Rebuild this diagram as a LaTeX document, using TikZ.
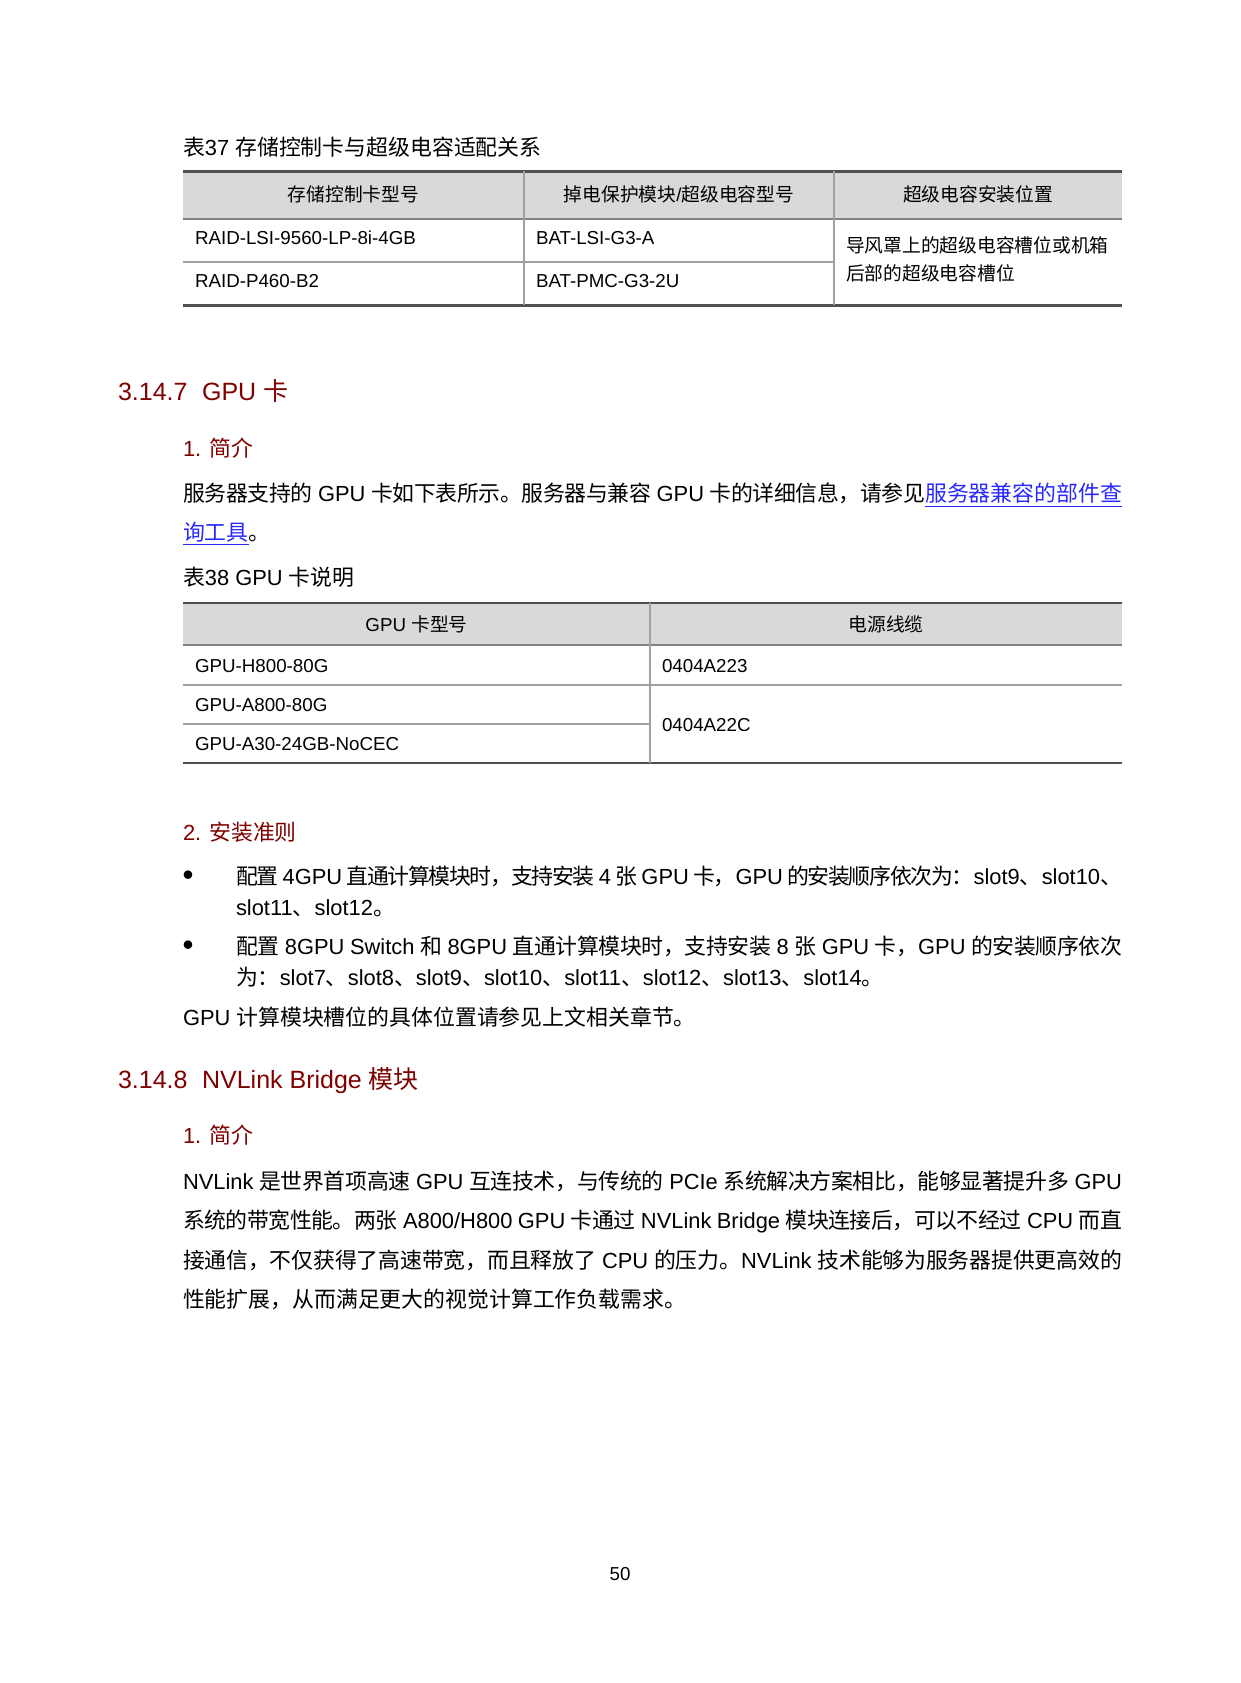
\documentclass[tikz,border=0pt]{standalone}
\usepackage{fontspec}
\setmainfont{Liberation Sans}
\newfontfamily\cjkfont{Noto Sans CJK SC}
\newcommand\latinfont{\rmfamily}
\XeTeXinterchartokenstate=1
\newXeTeXintercharclass\mycjk
\newcount\cjkcnt
\newcommand\setcjkrange[2]{\cjkcnt=#1\relax\loop\XeTeXcharclass\cjkcnt=\mycjk\relax\ifnum\cjkcnt<#2\relax\advance\cjkcnt by 1\relax\repeat}
\setcjkrange{"3000}{"303F}
\setcjkrange{"4E00}{"9FFF}
\setcjkrange{"FF00}{"FFEF}
\XeTeXinterchartoks 0 \mycjk = {\cjkfont}
\XeTeXinterchartoks 4095 \mycjk = {\cjkfont}
\XeTeXinterchartoks \mycjk 0 = {\latinfont}
\XeTeXinterchartoks \mycjk 4095 = {\latinfont}
\XeTeXinterchartoks \mycjk \mycjk = {\hskip 0pt plus 1.5pt minus 0.7pt\relax}
\definecolor{headred}{RGB}{128,0,0}
\definecolor{linkblue}{RGB}{40,40,255}
\definecolor{hdrgray}{RGB}{217,217,217}
\definecolor{darkrule}{RGB}{80,80,80}
\definecolor{midrule}{RGB}{130,130,130}
\definecolor{gridrule}{RGB}{160,160,160}
\newcommand\bodysize{\fontsize{10.5pt}{12.6pt}\selectfont}
\newcommand\tabsize{\fontsize{9pt}{10.8pt}\selectfont}
\newcommand\headsize{\fontsize{12pt}{14.4pt}\selectfont}
\newcommand\lnk[1]{{\color{linkblue}\underline{#1}}}
\newcommand\fullline[1]{\hbox to 450.72pt{#1}}
\newcommand\bulline[1]{\hbox to 425.28pt{#1}}
\tikzset{
  txt/.style={anchor=base west, inner sep=0pt, outer sep=0pt, font=\bodysize},
  tabtxt/.style={anchor=base west, inner sep=0pt, outer sep=0pt, font=\tabsize},
  tabhead/.style={anchor=base, inner sep=0pt, outer sep=0pt, font=\tabsize},
  subhead/.style={anchor=base west, inner sep=0pt, outer sep=0pt, font=\bodysize, text=headred},
  sechead/.style={anchor=base west, inner sep=0pt, outer sep=0pt, font=\headsize, text=headred},
  bulletmark/.style={anchor=base, inner sep=0pt, outer sep=0pt, font=\fontsize{15pt}{17pt}\selectfont},
  thickrule/.style={draw=darkrule, line width=1pt},
  hdrrule/.style={draw=midrule, line width=0.8pt},
  gridline/.style={draw=gridrule, line width=0.6pt},
  hdrfill/.style={fill=hdrgray},
}
\begin{document}
\begin{tikzpicture}[x=0.48pt, y=-0.48pt]
\useasboundingbox (0,0) rectangle (1240,1683);
\fill[white] (0,0) rectangle (1240,1683);

% ---------- Table 37 ----------
\node[txt] (cap37) at (183,155.5) {表37 存储控制卡与超级电容适配关系};
\fill[hdrfill] (183,171.5) rectangle (1122,219);
\draw[thickrule] (183,171.5) -- (1122,171.5);
\draw[hdrrule] (183,219) -- (1122,219);
\draw[gridline] (183,262) -- (834,262);
\draw[thickrule] (183,305.5) -- (1122,305.5);
\draw[gridline] (524,171.5) -- (524,305.5);
\draw[gridline] (834,171.5) -- (834,305.5);
\node[tabhead] (t1h1) at (353.5,202) {存储控制卡型号};
\node[tabhead] (t1h2) at (679,202) {掉电保护模块/超级电容型号};
\node[tabhead] (t1h3) at (978,202) {超级电容安装位置};
\node[tabtxt] (t1a1) at (195,245) {RAID-LSI-9560-LP-8i-4GB};
\node[tabtxt] (t1b1) at (536,245) {BAT-LSI-G3-A};
\node[tabtxt] (t1a2) at (195,287.5) {RAID-P460-B2};
\node[tabtxt] (t1b2) at (536,287.5) {BAT-PMC-G3-2U};
\node[tabtxt] (t1c1) at (846,252.5) {导风罩上的超级电容槽位或机箱};
\node[tabtxt] (t1c2) at (846,281) {后部的超级电容槽位};

% ---------- 3.14.7 ----------
\node[sechead] (sec1) at (118,400.5) {3.14.7\hspace{7pt}GPU 卡};
\node[subhead] (sub1) at (183,457) {1. 简介};
\node[txt] (p1l1) at (183,502) {\fullline{服务器支持的 GPU 卡如下表所示。服务器与兼容 GPU 卡的详细信息，请参见\lnk{服务器兼容的部件查}}};
\node[txt] (p1l2) at (183,540) {\lnk{询工具}。};
\node[txt] (cap38) at (183,585.5) {表38 GPU 卡说明};

% ---------- Table 38 ----------
\fill[hdrfill] (183,603.3) rectangle (1122,645);
\draw[thickrule] (183,603.3) -- (1122,603.3);
\draw[hdrrule] (183,645) -- (1122,645);
\draw[gridline] (183,685) -- (1122,685);
\draw[gridline] (183,724) -- (650,724);
\draw[thickrule] (183,762.7) -- (1122,762.7);
\draw[gridline] (650,603.3) -- (650,762.7);
\node[tabhead] (t2h1) at (416.5,631) {GPU 卡型号};
\node[tabhead] (t2h2) at (886,631) {电源线缆};
\node[tabtxt] (t2a1) at (195,672) {GPU-H800-80G};
\node[tabtxt] (t2b1) at (662,672) {0404A223};
\node[tabtxt] (t2a2) at (195,711) {GPU-A800-80G};
\node[tabtxt] (t2a3) at (195,750) {GPU-A30-24GB-NoCEC};
\node[tabtxt] (t2b2) at (662,731.5) {0404A22C};

% ---------- 2. 安装准则 ----------
\node[subhead] (sub2) at (183,840) {2. 安装准则};
\node[bulletmark] (bul1) at (188,885) {•};
\node[txt] (b1l1) at (236,884) {\bulline{配置 4GPU 直通计算模块时，支持安装 4 张 GPU 卡，GPU 的安装顺序依次为：slot9、slot10、}};
\node[txt] (b1l2) at (236,915) {slot11、slot12。};
\node[bulletmark] (bul2) at (188,955) {•};
\node[txt] (b2l1) at (236,954) {\bulline{配置 8GPU Switch 和 8GPU 直通计算模块时，支持安装 8 张 GPU 卡，GPU 的安装顺序依次}};
\node[txt] (b2l2) at (236,985.5) {为：slot7、slot8、slot9、slot10、slot11、slot12、slot13、slot14。};
\node[txt] (p2) at (183,1025.5) {GPU 计算模块槽位的具体位置请参见上文相关章节。};

% ---------- 3.14.8 ----------
\node[sechead] (sec2) at (118,1088.5) {3.14.8\hspace{7pt}NVLink Bridge 模块};
\node[subhead] (sub3) at (183,1143.5) {1. 简介};
\node[txt] (p3l1) at (183,1189) {\fullline{NVLink 是世界首项高速 GPU 互连技术，与传统的 PCIe 系统解决方案相比，能够显著提升多 GPU}};
\node[txt] (p3l2) at (183,1228.5) {\fullline{系统的带宽性能。两张 A800/H800 GPU 卡通过 NVLink Bridge 模块连接后，可以不经过 CPU 而直}};
\node[txt] (p3l3) at (183,1268) {\fullline{接通信，不仅获得了高速带宽，而且释放了 CPU 的压力。NVLink 技术能够为服务器提供更高效的}};
\node[txt] (p3l4) at (183,1307.5) {性能扩展，从而满足更大的视觉计算工作负载需求。};

% ---------- page number ----------
\node[anchor=base, inner sep=0pt, font=\tabsize] (pgno) at (620,1580) {50};
\end{tikzpicture}
\end{document}
